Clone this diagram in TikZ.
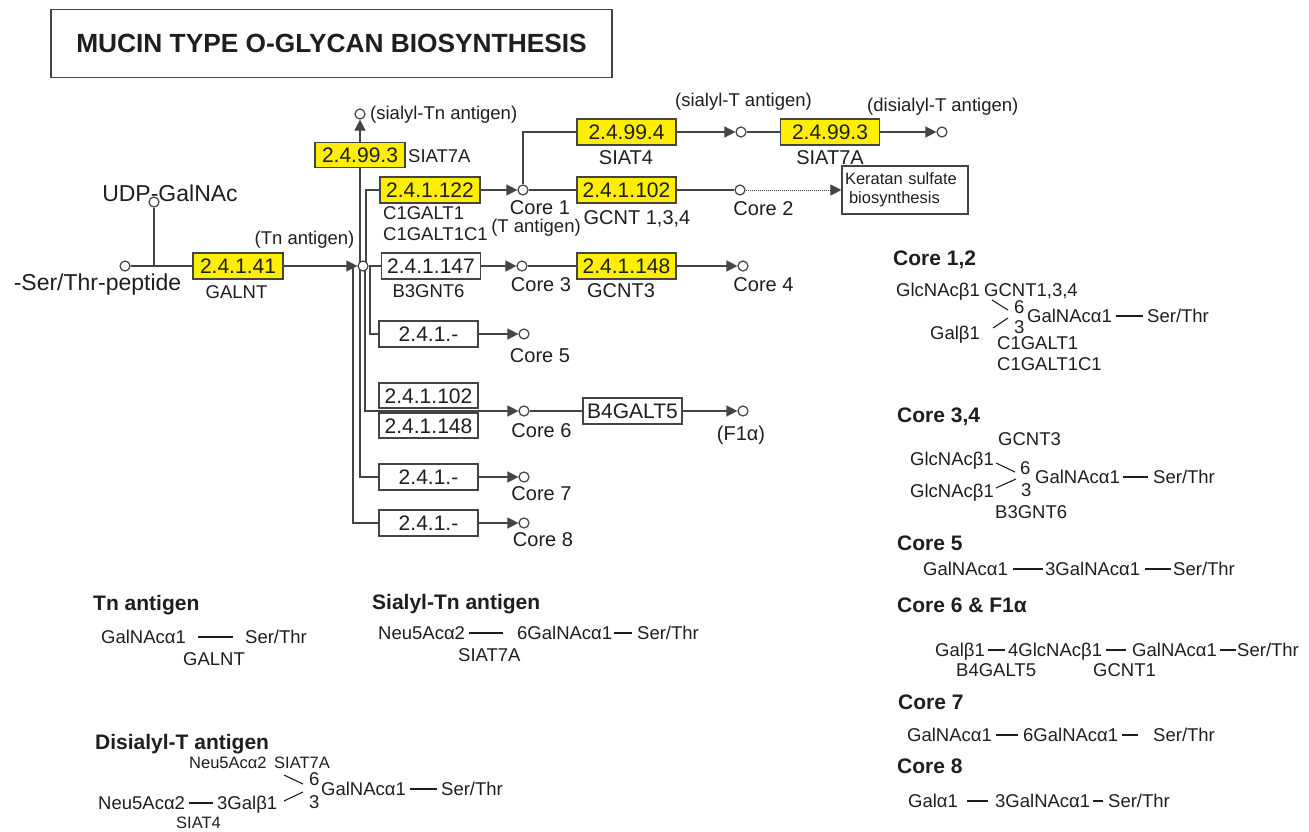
\documentclass[tikz,border=0pt]{standalone}
\usepackage{fontspec}
\setmainfont{Liberation Sans}
\usetikzlibrary{arrows.meta,backgrounds,calc}
\definecolor{kyel}{RGB}{255,238,0}
\definecolor{ink}{RGB}{30,30,30}
\definecolor{lin}{RGB}{68,68,68}
\newcommand{\fsz}[1]{\fontsize{#1}{#1}\selectfont}
\tikzset{
  enz/.style={draw=lin, line width=1.3pt, fill=kyel, minimum width=99, minimum height=26,
    inner sep=0pt, font=\fsz{21}, text=ink, text height=15pt, text depth=0pt},
  enzw/.style={enz, fill=white},
  cpd/.style={circle, draw=lin, line width=1.2pt, fill=white, minimum size=10, inner sep=0pt},
  t23/.style={inner sep=0pt, text=ink, font=\fsz{23}, text height=16.5pt, text depth=0pt},
  t20/.style={inner sep=0pt, text=ink, font=\fsz{20}, text height=14.3pt, text depth=0pt},
  t18/.style={inner sep=0pt, text=ink, font=\fsz{18.5}, text height=13.2pt, text depth=0pt},
  t16/.style={inner sep=0pt, text=ink, font=\fsz{16.5}, text height=11.8pt, text depth=0pt},
  sx/.style={t18, anchor=west},
  hd/.style={inner sep=0pt, anchor=west, text=ink, font=\bfseries\fsz{21}, text height=15pt, text depth=0pt},
  titlebox/.style={draw=lin, line width=1.2pt, minimum width=561, minimum height=68,
    font=\bfseries\fsz{26.3}, text=ink},
  con/.style={draw=lin, line width=1.4pt},
  arr/.style={con, -{Triangle[length=11pt,width=11pt]}},
  dotarr/.style={draw=lin, line width=1pt, densely dotted, -{Triangle[length=11pt,width=11pt]}},
  bond/.style={draw=ink, line width=1.1pt},
}
\begin{document}
\begin{tikzpicture}[x=1pt,y=-1pt]
\useasboundingbox (0,0) rectangle (1309,832);

% title
\node[titlebox] (title) at (331.5,43.4) {MUCIN TYPE O-GLYCAN BIOSYNTHESIS};

% compounds
\node[cpd] (ser) at (125,266) {};
\node[cpd] (udp) at (154,202) {};
\node[cpd] (tn) at (363,266) {};
\node[cpd] (stn) at (360,114) {};
\node[cpd] (c1) at (523,190) {};
\node[cpd] (st) at (741,132) {};
\node[cpd] (dst) at (942,132) {};
\node[cpd] (c2) at (740,190) {};
\node[cpd] (c3) at (522,266) {};
\node[cpd] (c4) at (743,266) {};
\node[cpd] (c5) at (524,334) {};
\node[cpd] (c6) at (524,411) {};
\node[cpd] (f1a) at (743,411) {};
\node[cpd] (c7) at (524,477) {};
\node[cpd] (c8) at (524,523) {};

% enzymes
\node[enz, minimum width=90] (e41) at (238,266) {2.4.1.41};
\node[enz, minimum width=90, minimum height=25] (e993a) at (360,155) {2.4.99.3};
\node[enz, minimum width=100] (e122) at (430,190) {2.4.1.122};
\node[enz] (e994) at (626.5,132) {2.4.99.4};
\node[enz] (e993b) at (830,132) {2.4.99.3};
\node[enz] (e102) at (626.5,190) {2.4.1.102};
\node[enzw] (e147) at (431,266) {2.4.1.147};
\node[enz] (e148) at (626.5,266) {2.4.1.148};
\node[enzw] (e5) at (428.5,334) {2.4.1.-};
\node[enzw, minimum height=25] (e6a) at (428.5,395.5) {2.4.1.102};
\node[enzw, minimum height=25] (e6b) at (428.5,425.5) {2.4.1.148};
\node[enzw] (b4) at (632.5,411) {B4GALT5};
\node[enzw] (e7) at (428.5,477) {2.4.1.-};
\node[enzw] (e8) at (428.5,523) {2.4.1.-};
\node[draw=lin, line width=1.2pt, minimum width=126, minimum height=48, inner xsep=3pt,
  text width=120, align=left, text=ink, font=\fontsize{16.5}{19}\selectfont] (ks) at (905,190)
  {Keratan sulfate\\\hspace*{4pt}biosynthesis};

% labels of the map
\node[t23] (udpl) at (170,193) {UDP-GalNAc};
\node[t23] (serl) at (97.5,282) {-Ser/Thr-peptide};
\node[t18] (galnt) at (236.5,292) {GALNT};
\node[t18] (tnl) at (304.5,238) {(Tn antigen)};
\node[t18, anchor=west] (stnl) at (370,113) {(sialyl-Tn antigen)};
\node[t18, anchor=west] (siat7a1) at (408,156) {SIAT7A};
\node[t18, anchor=west] (c1galt1) at (383,213) {C1GALT1};
\node[t18, anchor=west] (c1galt1c1) at (383,234) {C1GALT1C1};
\node[t20] (c1l) at (540,207) {Core 1};
\node[t18] (tal) at (536,226) {(T antigen)};
\node[t20] (siat4) at (626,157) {SIAT4};
\node[t18] (stl) at (743.5,100) {(sialyl-T antigen)};
\node[t20] (siat7a2) at (830,157) {SIAT7A};
\node[t18, anchor=west] (dstl) at (867,105) {(disialyl-T antigen)};
\node[t20] (gcnt134) at (637,217) {GCNT 1,3,4};
\node[t20] (c2l) at (763.5,208) {Core 2};
\node[t18] (b3gnt6) at (428.5,291) {B3GNT6};
\node[t20] (c3l) at (541,284) {Core 3};
\node[t20] (gcnt3) at (621,290) {GCNT3};
\node[t20] (c4l) at (763.5,284) {Core 4};
\node[t20] (c5l) at (540,355) {Core 5};
\node[t20] (c6l) at (541.5,430) {Core 6};
\node[t20] (f1al) at (741,433) {(F1α)};
\node[t20] (c7l) at (541.5,493) {Core 7};
\node[t20] (c8l) at (543,539) {Core 8};

% connectors
\begin{pgfonlayer}{background}
\draw[con] (ser) -- (e41);
\draw[con] (udp) -- (udp |- ser);
\draw[arr] (e41) -- (tn);
\draw[con] (e993a.south) -- (e993a.south |- e7.west) -- (e7.west);
\draw[arr] (e993a) -- (stn);
\draw[con] (e122.west) -| ([xshift=3]tn.center);
\draw[con] (tn) -- (e147);
\draw[con] ([xshift=7]tn.center) |- (e5.west);
\draw[arr] ([xshift=2]tn.center) |- (c6);
\draw[con] ([xshift=-10]tn.center) |- (e8.west);
\draw[arr] (e122) -- (c1);
\draw[con] (c1) |- (e994);
\draw[arr] (e994) -- (st);
\draw[con] (st) -- (e993b);
\draw[arr] (e993b) -- (dst);
\draw[con] (c1) -- (e102);
\draw[con] (e102) -- (c2);
\draw[dotarr] (c2) -- (ks);
\draw[arr] (e147) -- (c3);
\draw[con] (c3) -- (e148);
\draw[arr] (e148) -- (c4);
\draw[arr] (e5) -- (c5);
\draw[con] (c6) -- (b4);
\draw[arr] (b4) -- (f1a);
\draw[arr] (e7) -- (c7);
\draw[arr] (e8) -- (c8);
\end{pgfonlayer}

% ---- structure legends: Tn / Sialyl-Tn / Disialyl-T
\node[hd] (htn) at (93,603) {Tn antigen};
\node[sx] (tna) at (101,637) {GalNAcα1};
\node[sx] (tnt) at (245,637) {Ser/Thr};
\node[sx] (tne) at (183,659) {GALNT};
\draw[bond] ([xshift=12]tna.east) -- ([xshift=-12]tnt.west);

\node[hd] (hstn) at (372,602) {Sialyl-Tn antigen};
\node[sx] (stna) at (378,633) {Neu5Acα2};
\node[sx] (stnb) at (517,633) {6GalNAcα1};
\node[sx] (stnt) at (637,633) {Ser/Thr};
\node[sx] (stne) at (458,655) {SIAT7A};
\draw[bond] ([xshift=4]stna.east) -- ([xshift=-14]stnb.west);
\draw[bond] ([xshift=2]stnb.east) -- ([xshift=-5]stnt.west);

\node[hd] (hdst) at (95,742) {Disialyl-T antigen};
\node[t16, anchor=west] (dsa) at (189,763) {Neu5Acα2};
\node[t16, anchor=west] (dse) at (274,763) {SIAT7A};
\node[sx] (ds6) at (309,779) {6};
\node[sx] (dsr) at (321,789) {GalNAcα1};
\node[sx] (dst2) at (441,789) {Ser/Thr};
\node[sx] (dsb) at (98,803) {Neu5Acα2};
\node[sx] (dsc) at (217,803) {3Galβ1};
\node[sx] (ds3) at (309,802) {3};
\node[t16, anchor=west] (dsf) at (176,823) {SIAT4};
\draw[bond] ([xshift=4]dsr.east) -- ([xshift=-4]dst2.west);
\draw[bond] ([xshift=4]dsb.east) -- ([xshift=-4]dsc.west);
\draw[bond] (284,775) -- (303,784);
\draw[bond] (284,801) -- (303,792);

% ---- right panel
\node[hd] (h12) at (893,258) {Core 1,2};
\node[sx] (g12a) at (896,290) {GlcNAcβ1};
\node[sx] (g12e) at (984,290) {GCNT1,3,4};
\node[sx] (g12s6) at (1014,307) {6};
\node[sx] (g12r) at (1027,316) {GalNAcα1};
\node[sx] (g12t) at (1147,316) {Ser/Thr};
\node[sx] (g12b) at (930,333) {Galβ1};
\node[sx] (g12s3) at (1014,327) {3};
\node[sx] (g12c) at (997,343) {C1GALT1};
\node[sx] (g12d) at (997,364) {C1GALT1C1};
\draw[bond] (992,300) -- (1008,310);
\draw[bond] (993,328) -- (1008,318);
\draw[bond] ([xshift=4]g12r.east) -- ([xshift=-4]g12t.west);

\node[hd] (h34) at (897,415) {Core 3,4};
\node[sx] (g34e) at (998,439) {GCNT3};
\node[sx] (g34a) at (910,459) {GlcNAcβ1};
\node[sx] (g34s6) at (1020,468) {6};
\node[sx] (g34r) at (1035,477) {GalNAcα1};
\node[sx] (g34t) at (1153,477) {Ser/Thr};
\node[sx] (g34b) at (910,491) {GlcNAcβ1};
\node[sx] (g34s3) at (1021,490) {3};
\node[sx] (g34f) at (995,512) {B3GNT6};
\draw[bond] (996,463) -- (1015,472);
\draw[bond] (996,488) -- (1016,479);
\draw[bond] ([xshift=3]g34r.east) -- ([xshift=-5]g34t.west);

\node[hd] (h5) at (897,543) {Core 5};
\node[sx] (g5a) at (923,569) {GalNAcα1};
\node[sx] (g5b) at (1045,569) {3GalNAcα1};
\node[sx] (g5t) at (1173,569) {Ser/Thr};
\draw[bond] ([xshift=5]g5a.east) -- ([xshift=-2]g5b.west);
\draw[bond] ([xshift=5]g5b.east) -- ([xshift=-2]g5t.west);

\node[hd] (h6) at (897,605) {Core 6 \& F1α};
\node[sx] (g6a) at (935,650) {Galβ1};
\node[sx] (g6b) at (1008,650) {4GlcNAcβ1};
\node[sx] (g6c) at (1132,650) {GalNAcα1};
\node[sx] (g6t) at (1237,650) {Ser/Thr};
\node[sx] (g6e) at (956,670) {B4GALT5};
\node[sx] (g6f) at (1093,670) {GCNT1};
\draw[bond] ([xshift=3]g6a.east) -- ([xshift=-3]g6b.west);
\draw[bond] ([xshift=4]g6b.east) -- ([xshift=-6]g6c.west);
\draw[bond] ([xshift=3]g6c.east) -- ([xshift=-1]g6t.west);

\node[hd] (h7) at (898,702) {Core 7};
\node[sx] (g7a) at (907,735) {GalNAcα1};
\node[sx] (g7b) at (1023,735) {6GalNAcα1};
\node[sx] (g7t) at (1153,735) {Ser/Thr};
\draw[bond] ([xshift=4]g7a.east) -- ([xshift=-5]g7b.west);
\draw[bond] ([xshift=4]g7b.east) -- ([xshift=-15]g7t.west);

\node[hd] (h8) at (897,766) {Core 8};
\node[sx] (g8a) at (908,801) {Galα1};
\node[sx] (g8b) at (995,801) {3GalNAcα1};
\node[sx] (g8t) at (1108,801) {Ser/Thr};
\draw[bond] ([xshift=9]g8a.east) -- ([xshift=-7]g8b.west);
\draw[bond] ([xshift=3]g8b.east) -- ([xshift=-5]g8t.west);
\end{tikzpicture}
\end{document}
